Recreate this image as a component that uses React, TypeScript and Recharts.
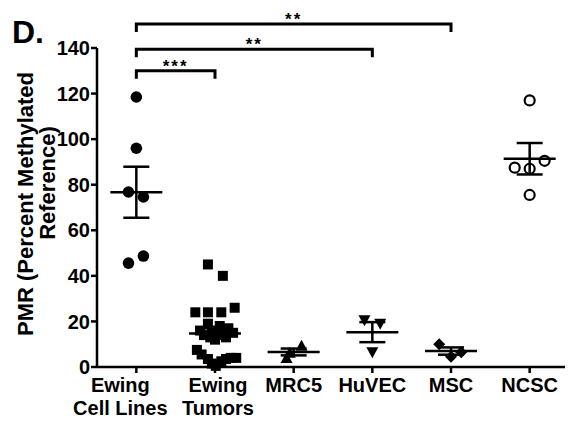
import React from 'react';
import { ScatterChart, Scatter, XAxis, YAxis, ErrorBar, ReferenceLine } from 'recharts';

const FONT = '"Liberation Sans", Arial, sans-serif';

// category labels (| = line break) and y ticks
const categories = ['Ewing|Cell Lines', 'Ewing|Tumors', 'MRC5', 'HuVEC', 'MSC', 'NCSC'];
const yTicks = [0, 20, 40, 60, 80, 100, 120, 140];

// individual PMR values, with their horizontal scatter (category units)
const ewingCellLines = [118.5, 96, 76.8, 74.6, 48.7, 45.6];
const ewingCellLinesJitter = [0, 0, -0.1, 0.09, 0.09, -0.1];

const ewingTumors = [45, 40, 26, 24, 24, 24, 19, 18, 17, 16, 16, 15, 15, 14, 14, 13, 13, 12, 7.5, 5.5, 3.5, 1.5, 0.5, 2.5, 3.5, 4, 4];
const ewingTumorsJitter = [-0.09, 0.1, 0.25, -0.25, -0.09, 0.08, -0.09, 0.06, 0.17, -0.19, -0.04, 0.11, 0.23, -0.14, 0.03, -0.06, 0.14, 0, -0.23, -0.17, -0.09, -0.04, 0.01, 0.08, 0.14, 0.2, 0.27];

const mrc5 = [9.3, 6.3, 4.0];
const mrc5Jitter = [0.1, -0.05, -0.09];

const huvec = [20.5, 19, 6.5];
const huvecJitter = [-0.1, 0.1, 0];

const msc = [10, 4.5, 6.5];
const mscJitter = [-0.15, 0, 0.13];

const ncsc = [117, 87.5, 87, 90.5, 75.5];
const ncscJitter = [0, -0.19, 0, 0.19, 0];

// group mean and SEM as drawn
const means = [76.7, 14.7, 6.6, 15.3, 7.0, 91.4];
const sems = [11.2, 2.3, 1.5, 4.4, 1.6, 6.9];

// significance brackets
const brackets = [
  { from: 0, to: 1, label: '***' },
  { from: 0, to: 3, label: '**' },
  { from: 0, to: 4, label: '**' },
];
const bracketLevels = [130, 139.5, 150.5];

const toPoints = (vals: number[], jitter: number[], idx: number) =>
  vals.map((v, i) => ({ x: idx + jitter[i], y: v }));

const meanData = means.map((m, i) => ({ x: i, y: m, sem: sems[i] }));

const dot = (p: any) => <circle cx={p.cx} cy={p.cy} r={5.8} fill="#000" />;
const openDot = (p: any) => <circle cx={p.cx} cy={p.cy} r={5} fill="none" stroke="#000" strokeWidth={2.2} />;
const square = (p: any) => <rect x={p.cx - 5} y={p.cy - 5} width={10} height={10} fill="#000" />;
const triUp = (p: any) => (
  <path d={`M${p.cx},${p.cy - 6} L${p.cx + 6},${p.cy + 5} L${p.cx - 6},${p.cy + 5}Z`} fill="#000" />
);
const triDown = (p: any) => (
  <path d={`M${p.cx},${p.cy + 6} L${p.cx + 6},${p.cy - 5} L${p.cx - 6},${p.cy - 5}Z`} fill="#000" />
);
const diamond = (p: any) => (
  <path d={`M${p.cx},${p.cy - 6} L${p.cx + 6},${p.cy} L${p.cx},${p.cy + 6} L${p.cx - 6},${p.cy}Z`} fill="#000" />
);
const meanLine = (p: any) => (
  <line x1={p.cx - 26} x2={p.cx + 26} y1={p.cy} y2={p.cy} stroke="#000" strokeWidth={2.5} />
);

const bracketShape = (label: string) => (p: any) => {
  const { x1, x2, y1 } = p;
  return (
    <g>
      <path d={`M${x1},${y1 + 8} V${y1} H${x2} V${y1 + 8}`} stroke="#000" strokeWidth={3} fill="none" />
      <text x={(x1 + x2) / 2} y={y1 + 1} textAnchor="middle" fontSize={17} fontWeight="bold" letterSpacing={2} fontFamily={FONT}>
        {label}
      </text>
    </g>
  );
};

const XTick = (p: any) => {
  const lines = categories[p.payload.value].split('|');
  const dx = p.payload.value === 0 ? -16 : p.payload.value === 1 ? 3 : 0;
  return (
    <g>
      {lines.map((l, i) => (
        <text key={i} x={p.x + dx} y={p.y + 17 + i * 23} textAnchor="middle" fontSize={20} fontWeight="bold" fill="#000" fontFamily={FONT}>
          {l}
        </text>
      ))}
    </g>
  );
};

const AxisTitle = () => (
  <g fontFamily={FONT} fontWeight="bold" fill="#000">
    <text x={4} y={35} fontSize={32}>D.</text>
    <text transform="translate(25,196) rotate(-90)" textAnchor="middle" fontSize={22}>PMR (Percent Methylated</text>
    <text transform="translate(47,175) rotate(-90)" textAnchor="middle" fontSize={22}>Reference)</text>
  </g>
);

const series = [
  { data: toPoints(ewingCellLines, ewingCellLinesJitter, 0), shape: dot },
  { data: toPoints(ewingTumors, ewingTumorsJitter, 1), shape: square },
  { data: toPoints(mrc5, mrc5Jitter, 2), shape: triUp },
  { data: toPoints(huvec, huvecJitter, 3), shape: triDown },
  { data: toPoints(msc, mscJitter, 4), shape: diamond },
  { data: toPoints(ncsc, ncscJitter, 5), shape: openDot },
];

export default function App() {
  return (
    <ScatterChart width={565} height={416} margin={{ top: 40, right: 4, bottom: 0, left: 0 }} style={{ fontFamily: FONT }}>
      <XAxis
        type="number"
        dataKey="x"
        domain={[-0.5, 5.5]}
        ticks={[0, 1, 2, 3, 4, 5]}
        interval={0}
        height={57}
        axisLine={{ stroke: '#000', strokeWidth: 2.5 }}
        tickLine={{ stroke: '#000', strokeWidth: 2.5 }}
        tickSize={6}
        tick={<XTick />}
      />
      <YAxis
        type="number"
        dataKey="y"
        domain={[0, 140]}
        ticks={yTicks}
        interval={0}
        width={89}
        axisLine={{ stroke: '#000', strokeWidth: 2.5 }}
        tickLine={{ stroke: '#000', strokeWidth: 2.5 }}
        tickSize={6}
        tickMargin={1}
        tick={{ fill: '#000', fontSize: 20, fontWeight: 'bold', fontFamily: FONT }}
        label={() => <AxisTitle />}
      />
      {series.map((s, i) => (
        <Scatter key={i} data={s.data} shape={s.shape} isAnimationActive={false} />
      ))}
      <Scatter data={meanData} shape={meanLine} isAnimationActive={false}>
        <ErrorBar dataKey="sem" direction="y" width={13} stroke="#000" strokeWidth={2.5} />
      </Scatter>
      {brackets.map((b, i) => (
        <ReferenceLine
          key={i}
          segment={[
            { x: b.from, y: bracketLevels[i] },
            { x: b.to, y: bracketLevels[i] },
          ]}
          ifOverflow="visible"
          shape={bracketShape(b.label)}
        />
      ))}
    </ScatterChart>
  );
}
